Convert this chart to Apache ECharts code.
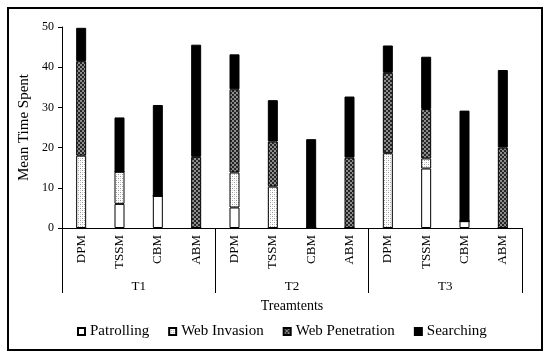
<!DOCTYPE html>
<html><head><meta charset="utf-8">
<script src="https://cdn.jsdelivr.net/npm/echarts@6/dist/echarts.min.js"></script>
<style>html,body{margin:0;padding:0;background:#fff}#c{width:550px;height:360px}</style>
</head><body><div id="c"></div>
<script>
const groups = ['T1', 'T2', 'T3'];
const models = ['DPM', 'TSSM', 'CBM', 'ABM'];
const seriesNames = ['Patrolling', 'Web Invasion', 'Web Penetration', 'Searching'];
const patrolling     = [0, 6, 8, 0,    5.1, 0, 0, 0,      0, 14.8, 1.7, 0];
const webInvasion    = [18, 8, 0, 0,   8.7, 10.3, 0, 0,   18.6, 2.5, 0, 0];
const webPenetration = [23.5, 0, 0, 17.7, 20.7, 11.2, 0, 17.5, 20, 12.3, 0, 20];
const searching      = [8.3, 13.5, 22.6, 27.9, 8.7, 10.3, 22.1, 15.2, 6.8, 13, 27.5, 19.3];
const yTicks = [0, 10, 20, 30, 40, 50];

function makePattern(kind) {
  const c = document.createElement('canvas');
  c.width = 4; c.height = 4;
  const g = c.getContext('2d');
  if (kind === 'dots') {
    g.fillStyle = '#ffffff'; g.fillRect(0, 0, 4, 4);
    g.fillStyle = '#999999';
    g.fillRect(0, 0, 1, 1); g.fillRect(2, 2, 1, 1);
    g.fillStyle = '#d0d0d0';
    g.fillRect(2, 0, 1, 1); g.fillRect(0, 2, 1, 1);
  } else {
    g.fillStyle = '#262626'; g.fillRect(0, 0, 4, 4);
    g.fillStyle = '#8c8c8c';
    g.fillRect(0, 0, 2, 2); g.fillRect(2, 2, 2, 2);
  }
  return c;
}

const cats = [];
groups.forEach(g => models.forEach(m => cats.push(g + '|' + m)));
const values = [patrolling, webInvasion, webPenetration, searching];
const fills = ['#ffffff', {image: makePattern('dots'), repeat: 'repeat'},
               {image: makePattern('check'), repeat: 'repeat'}, '#000000'];
const font = 'Liberation Serif';

const chart = echarts.init(document.getElementById('c'), null, {renderer: 'canvas'});
chart.setOption({
  animation: false,
  backgroundColor: '#fff',
  grid: {left: 62, right: 28, top: 27, bottom: 132},
  legend: {
    left: 72, top: 319, itemWidth: 7, itemHeight: 7, itemGap: 19,
    icon: 'rect',
    textStyle: {fontFamily: font, fontSize: 15, color: '#000'},
    data: seriesNames
  },
  xAxis: [{
    type: 'category', data: cats, position: 'bottom',
    axisLine: {show: true, lineStyle: {color: '#000', width: 1}},
    axisTick: {show: false},
    axisLabel: {rotate: 90, margin: 7, interval: 0, fontFamily: font, fontSize: 13, color: '#000',
      formatter: v => v.split('|')[1]}
  }, {
    type: 'category', data: groups, position: 'bottom',
    axisLine: {show: false},
    axisTick: {show: true, interval: 0, length: 65, lineStyle: {color: '#000', width: 1}},
    axisLabel: {margin: 52, fontFamily: font, fontSize: 13, color: '#000'},
    name: 'Treamtents', nameLocation: 'middle', nameGap: 71,
    nameTextStyle: {fontFamily: font, fontSize: 14, color: '#000'}
  }],
  yAxis: {
    type: 'value', min: yTicks[0], max: yTicks[yTicks.length - 1], interval: 10,
    axisLine: {show: true, lineStyle: {color: '#000', width: 1}},
    axisTick: {show: true, length: 4, lineStyle: {color: '#000'}},
    splitLine: {show: false},
    axisLabel: {margin: 8, fontFamily: font, fontSize: 12, color: '#000'},
    name: 'Mean Time Spent', nameLocation: 'middle', nameGap: 25,
    nameTextStyle: {fontFamily: font, fontSize: 15, color: '#000'}
  },
  series: seriesNames.map((n, i) => ({
    name: n, type: 'bar', stack: 'total', barWidth: 10, xAxisIndex: 0,
    data: values[i],
    itemStyle: {color: fills[i], borderColor: '#000', borderWidth: 1}
  })),
  graphic: [{
    type: 'rect', shape: {x: 8, y: 8, width: 534, height: 342},
    style: {fill: 'none', stroke: '#000', lineWidth: 2}, silent: true
  }]
});
</script></body></html>
